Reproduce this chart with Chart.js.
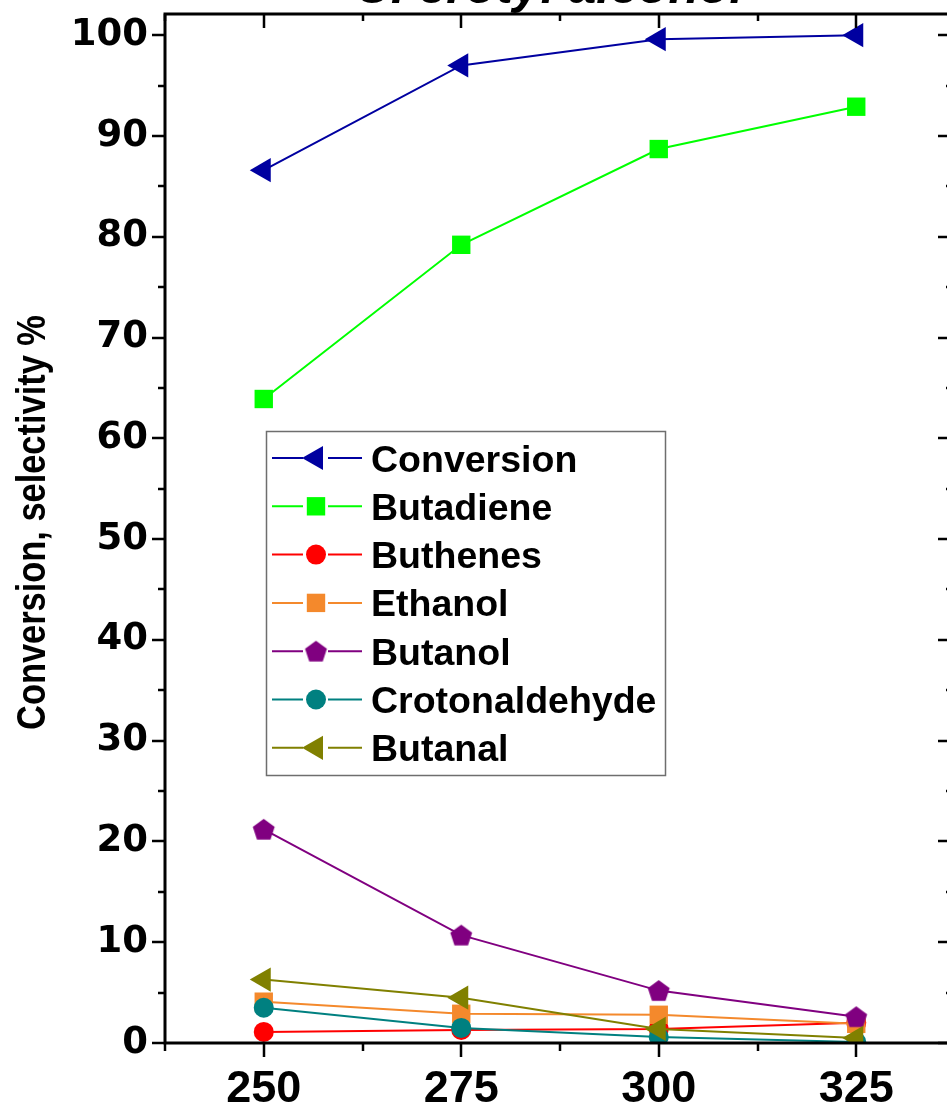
<!DOCTYPE html>
<html>
<head>
<meta charset="utf-8">
<script src="https://cdn.jsdelivr.net/npm/chart.js@4/dist/chart.umd.min.js"></script>
<style>
  html, body { margin: 0; padding: 0; background: #fff; overflow: hidden; }
  #wrap { position: relative; width: 947px; height: 1107px; overflow: hidden; }
  #chart { position: absolute; left: 0; top: -40px; }
</style>
</head>
<body>
<div id="wrap"><canvas id="chart" width="960" height="1147"></canvas></div>
<script>
// Reaction temperature, °C
const temperatures = [250, 275, 300, 325];

// Conversion and product selectivities, %
const conversion     = [86.6, 97.0, 99.6, 100.0];
const butadiene      = [63.9, 79.2, 88.7, 92.9];
const buthenes       = [1.1, 1.3, 1.4, 2.0];
const ethanol        = [4.1, 2.9, 2.8, 1.9];
const butanol        = [21.2, 10.7, 5.2, 2.6];
const crotonaldehyde = [3.5, 1.5, 0.6, 0.1];
const butanal        = [6.3, 4.5, 1.4, 0.5];

const seriesNames = ['Conversion', 'Butadiene', 'Buthenes', 'Ethanol', 'Butanol', 'Crotonaldehyde', 'Butanal'];

// Axis ticks
const xTickValues = [250, 275, 300, 325];
const xMinorValues = [237.5, 262.5, 287.5, 312.5, 337.5];
const yTickValues = [0, 10, 20, 30, 40, 50, 60, 70, 80, 90, 100];
const yMinorValues = [5, 15, 25, 35, 45, 55, 65, 75, 85, 95];

const chartTitle = 'C. crotyl alcohol';
const yAxisTitle = 'Conversion, selectivity %';

// Pentagon marker as an image point style
function makePentagon(color, r) {
  const c = document.createElement('canvas');
  const s = Math.ceil(r * 2 + 2);
  c.width = s; c.height = s;
  const g = c.getContext('2d');
  g.fillStyle = color;
  g.beginPath();
  for (let i = 0; i < 5; i++) {
    const a = -Math.PI / 2 + i * 2 * Math.PI / 5;
    const px = s / 2 + Math.cos(a) * r;
    const py = s / 2 + 1 + Math.sin(a) * r;
    if (i === 0) g.moveTo(px, py); else g.lineTo(px, py);
  }
  g.closePath();
  g.fill();
  return c;
}

const styles = [
  { color: '#0000A0', pointStyle: 'triangle', radius: 14, rotation: -90 },
  { color: '#00FF00', pointStyle: 'rect', radius: 13, rotation: 0 },
  { color: '#FF0000', pointStyle: 'circle', radius: 10, rotation: 0 },
  { color: '#F4892C', pointStyle: 'rect', radius: 13, rotation: 0 },
  { color: '#800080', pointStyle: makePentagon('#800080', 11.5), radius: 11, rotation: 0 },
  { color: '#008080', pointStyle: 'circle', radius: 10, rotation: 0 },
  { color: '#808000', pointStyle: 'triangle', radius: 14, rotation: -90 }
];

const seriesValues = [conversion, butadiene, buthenes, ethanol, butanol, crotonaldehyde, butanal];

const datasets = seriesValues.map((vals, i) => ({
  label: seriesNames[i],
  data: temperatures.map((t, j) => ({ x: t, y: vals[j] })),
  borderColor: styles[i].color,
  backgroundColor: styles[i].color,
  borderWidth: 2,
  pointStyle: styles[i].pointStyle,
  pointRadius: styles[i].radius,
  pointRotation: styles[i].rotation,
  pointBackgroundColor: styles[i].color,
  pointBorderColor: styles[i].color,
  pointBorderWidth: 0,
  tension: 0,
  clip: 0,
  order: seriesValues.length - 1 - i
}));

// Draw a marker with the same shape the dataset uses
function drawMarker(ctx, st, x, y) {
  ctx.save();
  ctx.fillStyle = st.color;
  ctx.strokeStyle = st.color;
  if (Chart.helpers && Chart.helpers.drawPoint) {
    Chart.helpers.drawPoint(ctx, { pointStyle: st.pointStyle, radius: st.radius, rotation: st.rotation, borderWidth: 0 }, x, y);
  } else if (st.pointStyle instanceof HTMLCanvasElement) {
    ctx.drawImage(st.pointStyle, x - st.pointStyle.width / 2, y - st.pointStyle.height / 2);
  }
  ctx.restore();
}

// Box frame with ticks on all four sides
const framePlugin = {
  id: 'frame',
  afterDatasetsDraw(chart) {
    const { ctx, chartArea: a, scales: { x, y } } = chart;
    ctx.save();
    ctx.strokeStyle = '#000';
    ctx.lineWidth = 3;
    ctx.lineCap = 'butt';
    ctx.beginPath();
    ctx.rect(a.left, a.top, a.right - a.left, a.bottom - a.top);
    ctx.stroke();
    ctx.lineWidth = 2.5;
    ctx.beginPath();
    xTickValues.forEach(v => {
      const px = Math.round(x.getPixelForValue(v));
      ctx.moveTo(px, a.bottom); ctx.lineTo(px, a.bottom + 14);
      ctx.moveTo(px, a.top); ctx.lineTo(px, a.top + 14);
    });
    xMinorValues.forEach(v => {
      const px = Math.round(x.getPixelForValue(v));
      ctx.moveTo(px, a.bottom); ctx.lineTo(px, a.bottom + 8);
      ctx.moveTo(px, a.top); ctx.lineTo(px, a.top + 7);
    });
    yTickValues.forEach(v => {
      const py = Math.round(y.getPixelForValue(v));
      ctx.moveTo(a.left, py); ctx.lineTo(a.left - 13, py);
      ctx.moveTo(a.right, py); ctx.lineTo(a.right - 17, py);
    });
    yMinorValues.forEach(v => {
      const py = Math.round(y.getPixelForValue(v));
      ctx.moveTo(a.left, py); ctx.lineTo(a.left - 7, py);
      ctx.moveTo(a.right, py); ctx.lineTo(a.right - 9, py);
    });
    ctx.stroke();
    ctx.restore();
  }
};

// Condensed, rotated title of the value axis
const yTitlePlugin = {
  id: 'yTitle',
  afterDraw(chart) {
    const { ctx, chartArea: a } = chart;
    ctx.save();
    ctx.translate(31, (a.top + a.bottom) / 2 - 6);
    ctx.rotate(-Math.PI / 2);
    ctx.scale(0.86, 1);
    ctx.font = 'bold 40px "Liberation Sans", Arial, sans-serif';
    ctx.fillStyle = '#000';
    ctx.textAlign = 'center';
    ctx.textBaseline = 'alphabetic';
    ctx.fillText(yAxisTitle, 0, 14);
    ctx.restore();
  }
};

// Boxed legend inside the plot, line + marker samples
const legendBoxPlugin = {
  id: 'legendBox',
  afterDraw(chart) {
    const ctx = chart.ctx;
    const bx = 266, by = 471, bw = 399, bh = 344;
    ctx.save();
    ctx.fillStyle = '#fff';
    ctx.fillRect(bx, by, bw, bh);
    ctx.strokeStyle = '#6e6e6e';
    ctx.lineWidth = 1.5;
    ctx.strokeRect(bx + 0.5, by + 0.5, bw, bh);
    ctx.font = 'bold 37.5px "Liberation Sans", Arial, sans-serif';
    ctx.textBaseline = 'alphabetic';
    ctx.textAlign = 'left';
    seriesNames.forEach((name, i) => {
      const cy = 498 + i * 48.3;
      const st = styles[i];
      ctx.strokeStyle = st.color;
      ctx.lineWidth = 2;
      ctx.beginPath();
      ctx.moveTo(272, cy); ctx.lineTo(303, cy);
      ctx.moveTo(328, cy); ctx.lineTo(362, cy);
      ctx.stroke();
      drawMarker(ctx, st, 316, cy);
      ctx.fillStyle = '#000';
      ctx.fillText(name, 371, cy + 13.5);
    });
    ctx.restore();
  }
};

// Chart heading above the frame
const headingPlugin = {
  id: 'heading',
  afterDraw(chart) {
    const ctx = chart.ctx;
    ctx.save();
    ctx.font = 'italic bold 50px "Liberation Sans", Arial, sans-serif';
    ctx.fillStyle = '#000';
    ctx.textAlign = 'center';
    ctx.textBaseline = 'alphabetic';
    ctx.fillText(chartTitle, 549, 43);
    ctx.restore();
  }
};

new Chart(document.getElementById('chart'), {
  type: 'line',
  data: { datasets },
  options: {
    responsive: false,
    animation: false,
    devicePixelRatio: 1,
    layout: { autoPadding: false, padding: { top: 54, right: 5, left: 0, bottom: 0 } },
    plugins: {
      legend: { display: false },
      tooltip: { enabled: false },
      title: { display: false }
    },
    scales: {
      x: {
        type: 'linear',
        min: 237.5,
        max: 337.5,
        grid: { display: false, drawTicks: false },
        border: { display: false },
        afterBuildTicks: s => { s.ticks = xTickValues.map(v => ({ value: v })); },
        afterFit: s => { s.height = 64; s.paddingLeft = 0; s.paddingRight = 0; },
        ticks: {
          color: '#000',
          autoSkip: false,
          maxRotation: 0,
          padding: 20,
          font: { family: '"Liberation Sans", Arial, sans-serif', weight: 'bold', size: 45 }
        }
      },
      y: {
        type: 'linear',
        min: 0,
        max: 102.1,
        grid: { display: false, drawTicks: false },
        border: { display: false },
        afterBuildTicks: s => { s.ticks = yTickValues.map(v => ({ value: v })); },
        afterFit: s => { s.width = 165; s.paddingTop = 0; s.paddingBottom = 0; },
        ticks: {
          color: '#000',
          autoSkip: false,
          padding: 17,
          font: { family: '"DejaVu Sans", sans-serif', weight: 'bold', size: 37 }
        }
      }
    }
  },
  plugins: [framePlugin, yTitlePlugin, legendBoxPlugin, headingPlugin]
});
</script>
</body>
</html>
